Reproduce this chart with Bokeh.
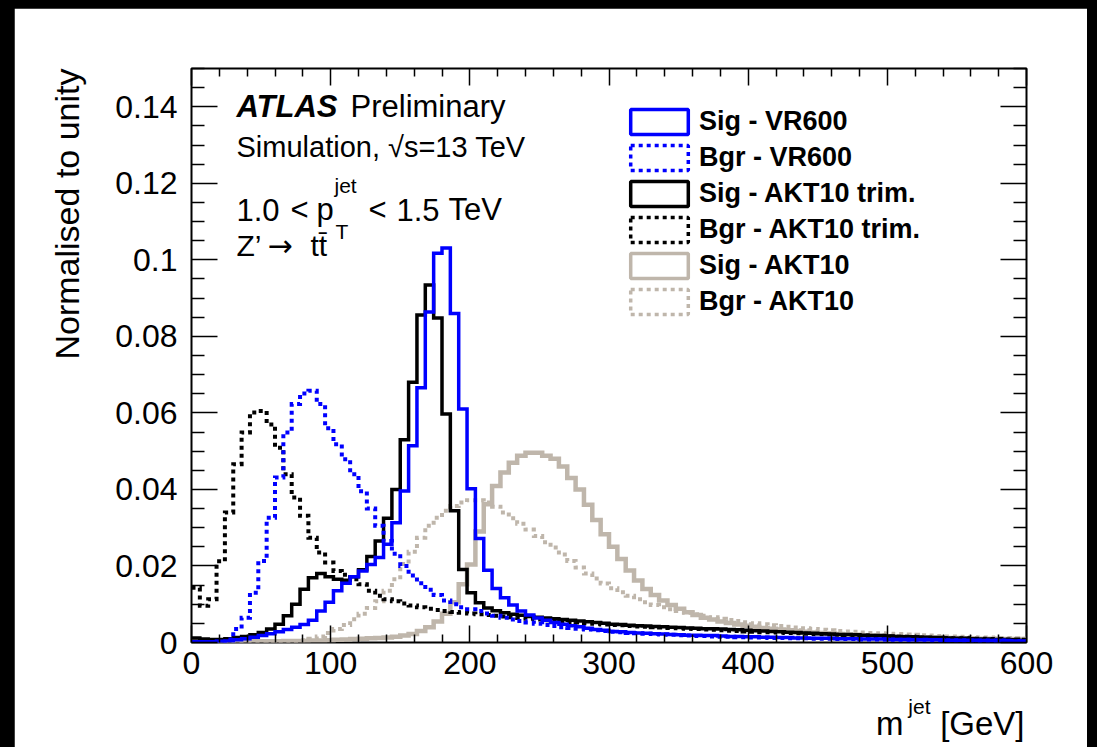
from bokeh.plotting import figure
from bokeh.models import (Range1d, LinearAxis, FixedTicker, Label, Legend, LegendItem,
                          CustomJSTickFormatter, Title)
from bokeh.layouts import column
from bokeh.embed import file_html
from bokeh.resources import INLINE

# ---------------- data (normalised to unity, 6 GeV bins from 0 to 600 GeV) -------------
bin_edges = list(range(0, 601, 6))

sig_vr600 = [
    0.0002, 0.0002, 0.0002, 0.0003, 0.0004, 0.0007, 0.0010, 0.0014, 0.0018, 0.0023,
    0.0028, 0.0034, 0.0040, 0.0047, 0.0058, 0.0082, 0.0105, 0.0135, 0.0155, 0.0172,
    0.0187, 0.0204, 0.0222, 0.0257, 0.0313, 0.0396, 0.0514, 0.0666, 0.0864, 0.1017,
    0.1031, 0.0860, 0.0610, 0.0402, 0.0272, 0.0189, 0.0141, 0.0117, 0.0098, 0.0082,
    0.0072, 0.0064, 0.0058, 0.0052, 0.0048, 0.0044, 0.0041, 0.0037, 0.0034, 0.0032,
    0.0029, 0.0028, 0.0026, 0.0025, 0.0024, 0.0023, 0.0022, 0.0021, 0.0020, 0.0019,
    0.0019, 0.0018, 0.0018, 0.0017, 0.0016, 0.0016, 0.0015, 0.0015, 0.0014, 0.0014,
    0.0013, 0.0013, 0.0012, 0.0012, 0.0011, 0.0011, 0.0011, 0.0010, 0.0010, 0.0010,
    0.0009, 0.0009, 0.0009, 0.0008, 0.0008, 0.0008, 0.0007, 0.0007, 0.0007, 0.0007,
    0.0006, 0.0006, 0.0006, 0.0006, 0.0005, 0.0005, 0.0005, 0.0005, 0.0004, 0.0004,
]

bgr_vr600 = [
    0.0000, 0.0000, 0.0000, 0.0002, 0.0008, 0.0035, 0.0065, 0.0130, 0.0213, 0.0326,
    0.0431, 0.0549, 0.0623, 0.0651, 0.0658, 0.0623, 0.0560, 0.0518, 0.0479, 0.0440,
    0.0395, 0.0350, 0.0305, 0.0265, 0.0232, 0.0200, 0.0175, 0.0155, 0.0138, 0.0124,
    0.0110, 0.0100, 0.0092, 0.0087, 0.0082, 0.0076, 0.0070, 0.0065, 0.0060, 0.0056,
    0.0052, 0.0049, 0.0046, 0.0043, 0.0040, 0.0038, 0.0036, 0.0034, 0.0032, 0.0030,
    0.0028, 0.0027, 0.0025, 0.0024, 0.0023, 0.0022, 0.0021, 0.0020, 0.0019, 0.0018,
    0.0017, 0.0017, 0.0016, 0.0015, 0.0015, 0.0014, 0.0014, 0.0013, 0.0013, 0.0012,
    0.0012, 0.0011, 0.0011, 0.0011, 0.0010, 0.0010, 0.0010, 0.0009, 0.0009, 0.0009,
    0.0008, 0.0008, 0.0008, 0.0008, 0.0007, 0.0007, 0.0007, 0.0007, 0.0006, 0.0006,
    0.0006, 0.0006, 0.0006, 0.0005, 0.0005, 0.0005, 0.0005, 0.0005, 0.0004, 0.0004,
]

sig_akt10_trim = [
    0.0012, 0.0009, 0.0008, 0.0008, 0.0010, 0.0013, 0.0016, 0.0020, 0.0026, 0.0035,
    0.0048, 0.0070, 0.0100, 0.0139, 0.0169, 0.0180, 0.0172, 0.0165, 0.0163, 0.0172,
    0.0190, 0.0225, 0.0265, 0.0325, 0.0400, 0.0530, 0.0680, 0.0856, 0.0934, 0.0848,
    0.0597, 0.0344, 0.0191, 0.0130, 0.0104, 0.0090, 0.0083, 0.0078, 0.0074, 0.0071,
    0.0068, 0.0066, 0.0064, 0.0062, 0.0060, 0.0058, 0.0056, 0.0054, 0.0052, 0.0050,
    0.0048, 0.0047, 0.0045, 0.0044, 0.0043, 0.0042, 0.0041, 0.0040, 0.0039, 0.0038,
    0.0037, 0.0036, 0.0036, 0.0035, 0.0034, 0.0033, 0.0032, 0.0031, 0.0030, 0.0029,
    0.0028, 0.0027, 0.0026, 0.0025, 0.0024, 0.0023, 0.0022, 0.0021, 0.0021, 0.0020,
    0.0019, 0.0018, 0.0018, 0.0017, 0.0016, 0.0015, 0.0015, 0.0014, 0.0013, 0.0013,
    0.0012, 0.0011, 0.0011, 0.0010, 0.0009, 0.0009, 0.0008, 0.0008, 0.0007, 0.0006,
]

bgr_akt10_trim = [
    0.0143, 0.0096, 0.0113, 0.0212, 0.0340, 0.0466, 0.0549, 0.0601, 0.0605, 0.0570,
    0.0509, 0.0440, 0.0379, 0.0331, 0.0274, 0.0235, 0.0209, 0.0187, 0.0177, 0.0165,
    0.0152, 0.0135, 0.0122, 0.0113, 0.0108, 0.0102, 0.0097, 0.0092, 0.0088, 0.0085,
    0.0082, 0.0080, 0.0078, 0.0076, 0.0074, 0.0072, 0.0070, 0.0068, 0.0066, 0.0064,
    0.0062, 0.0060, 0.0058, 0.0056, 0.0055, 0.0053, 0.0052, 0.0050, 0.0049, 0.0047,
    0.0046, 0.0045, 0.0043, 0.0042, 0.0041, 0.0040, 0.0039, 0.0038, 0.0037, 0.0036,
    0.0035, 0.0034, 0.0033, 0.0032, 0.0031, 0.0030, 0.0029, 0.0028, 0.0027, 0.0027,
    0.0026, 0.0025, 0.0024, 0.0023, 0.0022, 0.0022, 0.0021, 0.0020, 0.0019, 0.0019,
    0.0018, 0.0017, 0.0017, 0.0016, 0.0015, 0.0015, 0.0014, 0.0013, 0.0013, 0.0012,
    0.0012, 0.0011, 0.0011, 0.0010, 0.0010, 0.0009, 0.0009, 0.0008, 0.0008, 0.0007,
]

sig_akt10 = [
    0.0003, 0.0002, 0.0002, 0.0002, 0.0002, 0.0002, 0.0003, 0.0003, 0.0003, 0.0003,
    0.0003, 0.0004, 0.0004, 0.0004, 0.0005, 0.0005, 0.0006, 0.0007, 0.0008, 0.0009,
    0.0010, 0.0011, 0.0012, 0.0013, 0.0015, 0.0018, 0.0022, 0.0030, 0.0040, 0.0055,
    0.0075, 0.0105, 0.0152, 0.0204, 0.0290, 0.0361, 0.0409, 0.0444, 0.0470, 0.0488,
    0.0496, 0.0496, 0.0488, 0.0480, 0.0460, 0.0430, 0.0400, 0.0360, 0.0320, 0.0283,
    0.0250, 0.0218, 0.0188, 0.0162, 0.0140, 0.0124, 0.0110, 0.0098, 0.0088, 0.0079,
    0.0072, 0.0065, 0.0060, 0.0055, 0.0051, 0.0047, 0.0044, 0.0041, 0.0038, 0.0036,
    0.0034, 0.0032, 0.0030, 0.0028, 0.0026, 0.0025, 0.0024, 0.0022, 0.0021, 0.0020,
    0.0019, 0.0018, 0.0017, 0.0016, 0.0015, 0.0015, 0.0014, 0.0014, 0.0013, 0.0013,
    0.0012, 0.0012, 0.0011, 0.0011, 0.0010, 0.0010, 0.0010, 0.0009, 0.0009, 0.0009,
]

bgr_akt10 = [
    0.0000, 0.0000, 0.0000, 0.0000, 0.0000, 0.0000, 0.0000, 0.0000, 0.0000, 0.0001,
    0.0002, 0.0003, 0.0004, 0.0006, 0.0010, 0.0016, 0.0025, 0.0035, 0.0046, 0.0061,
    0.0075, 0.0090, 0.0108, 0.0135, 0.0165, 0.0205, 0.0237, 0.0274, 0.0305, 0.0326,
    0.0344, 0.0357, 0.0366, 0.0372, 0.0372, 0.0366, 0.0355, 0.0340, 0.0325, 0.0310,
    0.0295, 0.0278, 0.0262, 0.0248, 0.0230, 0.0213, 0.0196, 0.0180, 0.0167, 0.0154,
    0.0142, 0.0131, 0.0122, 0.0113, 0.0105, 0.0098, 0.0092, 0.0087, 0.0082, 0.0078,
    0.0074, 0.0070, 0.0066, 0.0062, 0.0059, 0.0056, 0.0053, 0.0050, 0.0048, 0.0045,
    0.0043, 0.0041, 0.0039, 0.0037, 0.0035, 0.0033, 0.0032, 0.0030, 0.0029, 0.0028,
    0.0026, 0.0025, 0.0024, 0.0023, 0.0022, 0.0021, 0.0020, 0.0019, 0.0018, 0.0017,
    0.0016, 0.0016, 0.0015, 0.0014, 0.0013, 0.0013, 0.0012, 0.0012, 0.0011, 0.0010,
]

x_major_ticks = [0, 100, 200, 300, 400, 500, 600]
y_major_ticks = [0.0, 0.02, 0.04, 0.06, 0.08, 0.10, 0.12, 0.14]

legend_labels = ["Sig - VR600", "Bgr - VR600", "Sig - AKT10 trim.",
                 "Bgr - AKT10 trim.", "Sig - AKT10", "Bgr - AKT10"]

# ---------------- styling ----------------
FONT = "Liberation Sans"
BLUE = "#0000ff"
BLACK = "#000000"
GREY = "#bfb6ab"
NBSP = "\u00a0"

p = figure(width=1073, height=739, x_range=Range1d(0, 600), y_range=Range1d(0, 0.15),
           output_backend="svg", toolbar_location=None,
           x_axis_location=None, y_axis_location=None,
           min_border_left=177, min_border_right=61, min_border_top=60, min_border_bottom=105)
p.grid.visible = False
p.outline_line_color = "black"
p.outline_line_width = 2
p.background_fill_color = "white"
p.border_fill_color = "white"
p.margin = (8, 10, 0, 14)

x_minor = [v for v in range(0, 601, 20) if v % 100 != 0]
y_minor = [i * 0.005 for i in range(0, 31) if i % 4 != 0]

fmt_y = CustomJSTickFormatter(code="return String(parseFloat(tick.toFixed(3)));")
fmt_x = CustomJSTickFormatter(code="return String(Math.round(tick));")


def make_axis(ticks, minor, major_in, minor_in, labels, fmt):
    ax = LinearAxis(ticker=FixedTicker(ticks=ticks, minor_ticks=minor), formatter=fmt)
    ax.axis_line_color = None
    ax.major_tick_in = major_in
    ax.major_tick_out = 0
    ax.minor_tick_in = minor_in
    ax.minor_tick_out = 0
    ax.major_tick_line_color = "black"
    ax.minor_tick_line_color = "black"
    ax.major_tick_line_width = 1.5
    ax.minor_tick_line_width = 1.5
    ax.major_label_text_font = FONT
    ax.major_label_text_font_size = "32px"
    ax.major_label_text_color = "black"
    if not labels:
        ax.major_label_text_alpha = 0
        ax.major_label_text_font_size = "1px"
    return ax


bottom = make_axis(x_major_ticks, x_minor, 17, 8, True, fmt_x)
bottom.major_label_standoff = 9
top = make_axis(x_major_ticks, x_minor, 17, 8, False, fmt_x)
left = make_axis(y_major_ticks, y_minor, 26, 13, True, fmt_y)
left.major_label_standoff = 14
right = make_axis(y_major_ticks, y_minor, 26, 13, False, fmt_y)
p.add_layout(bottom, "below")
p.add_layout(top, "above")
p.add_layout(left, "left")
p.add_layout(right, "right")

# axis titles (as side-panel titles so they are not clipped)
ytitle = Title(text="Normalised to unity", align="right", vertical_align="bottom",
               text_font=FONT, text_font_size="34px", text_font_style="normal",
               text_color="black", standoff=54, offset=0)
p.add_layout(ytitle, "left")
xsup = Title(text="jet", align="right", vertical_align="top", text_font=FONT,
             text_font_size="21px", text_font_style="normal", text_color="black",
             standoff=36, offset=96)
p.add_layout(xsup, "below")
xtitle = Title(text="m" + NBSP * 4 + "[GeV]", align="right", vertical_align="top",
               text_font=FONT, text_font_size="33px", text_font_style="normal",
               text_color="black", standoff=-65, offset=2)
p.add_layout(xtitle, "below")


def with_end(vals):
    return list(vals) + [vals[-1]]


series = [
    (bgr_akt10, GREY, "4 4", 4),
    (sig_akt10, GREY, "solid", 4.5),
    (bgr_akt10_trim, BLACK, "4 4", 4),
    (sig_akt10_trim, BLACK, "solid", 3.5),
    (bgr_vr600, BLUE, "4 4", 4),
    (sig_vr600, BLUE, "solid", 3.5),
]
for vals, col, dash, lw in series:
    p.step(x=bin_edges, y=with_end(vals), mode="after", line_color=col, line_width=lw,
           line_dash=dash, line_join="miter")

# legend with box glyphs (proxy renderers hold no drawable point)
legend_styles = [(BLUE, "solid"), (BLUE, "4 4"), (BLACK, "solid"), (BLACK, "4 4"),
                 (GREY, "solid"), (GREY, "4 4")]
nan = float("nan")
items = []
for lab, (col, dash) in zip(legend_labels, legend_styles):
    r = p.quad(left=[nan], right=[nan], top=[nan], bottom=[nan], fill_alpha=0,
               line_color=col, line_width=3.5, line_dash=dash)
    items.append(LegendItem(label=lab, renderers=[r]))
leg = Legend(items=items, location=(432, 325), glyph_width=72, glyph_height=31,
             spacing=5, padding=0, margin=0, label_standoff=4,
             label_text_font=FONT, label_text_font_size="27px", label_text_font_style="bold",
             label_text_color="black",
             border_line_alpha=0, background_fill_alpha=0, label_height=31)
p.add_layout(leg, "center")


def lbl(text, x, y, size="30px", style="normal", font=FONT):
    p.add_layout(Label(x=x, y=y, x_units="screen", y_units="screen", text=text,
                       text_font=font, text_font_size=size, text_font_style=style,
                       text_align="left", text_baseline="alphabetic", text_color="black"))


# ATLAS label block (positions in screen px relative to frame bottom-left)
lbl("ATLAS", 45, 536, size="31px", style="bold italic")
lbl("Preliminary", 159, 536, size="31px")
lbl("Simulation, \u221as=13 TeV", 45, 496, size="29px")
lbl("1.0", 45, 433, size="31px")
lbl("<", 99, 433, size="31px")
lbl("p", 125, 433, size="31px")
lbl("jet", 143, 457, size="21px")
lbl("T", 144, 411, size="21px")
lbl("<", 177, 433, size="31px")
lbl("1.5", 205, 433, size="31px")
lbl("TeV", 257, 433, size="31px")
lbl("Z\u2019", 45, 397)
lbl("\u2192", 76, 397, font="DejaVu Sans")
lbl("tt\u0304", 119, 397)

layout = column(p, styles={"background-color": "black"})
open("out.html", "w").write(file_html(layout, INLINE))
